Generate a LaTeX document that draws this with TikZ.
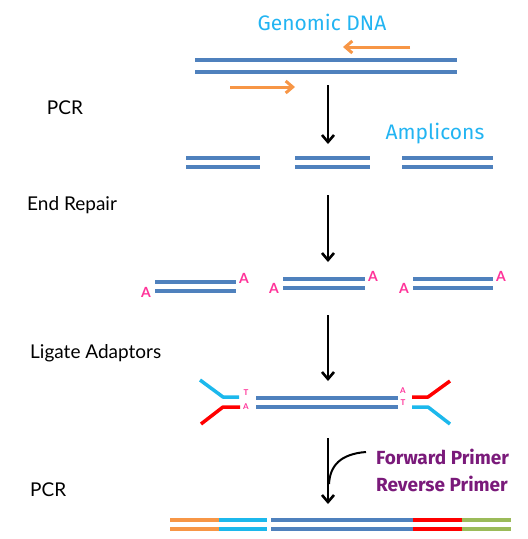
\documentclass[tikz,border=0pt]{standalone}
\usepackage{fontspec}
\setmainfont{Lato}
\newfontfamily\handfont{Fira Sans}
\usetikzlibrary{arrows.meta}

\definecolor{dnablue}{HTML}{4F81BD}
\definecolor{primerorange}{HTML}{F79646}
\definecolor{adaptcyan}{HTML}{1CB8EC}
\definecolor{adaptred}{HTML}{FF0000}
\definecolor{tailgreen}{HTML}{9BBB59}
\definecolor{basepink}{HTML}{FF3399}
\definecolor{labelcyan}{HTML}{22B4F2}
\definecolor{primerpurple}{HTML}{7A1A7A}

\begin{document}
\begin{tikzpicture}[x=1pt,y=-1pt]

	\tikzstyle{strand} = [line width=3.5pt, draw=dnablue]
	\tikzstyle{adaptor} = [line width=3.5pt, line join=round]
	\tikzstyle{step_arrow} = [-{Straight Barb[length=7pt,width=12pt]}, line width=2.6pt]
	\tikzstyle{primer} = [-{Straight Barb[length=7pt,width=12pt]}, line width=3pt, draw=primerorange]
	\tikzstyle{step_label} = [font=\fontsize{19}{21}\selectfont, anchor=west, inner sep=0pt]
	\tikzstyle{hand_label} = [font=\handfont\fontsize{21}{23}\selectfont, text=labelcyan]
	\tikzstyle{primer_label} = [font=\handfont\bfseries\fontsize{19}{21}\selectfont, text=primerpurple, anchor=west, inner sep=0pt]
	\tikzstyle{base} = [font=\bfseries\fontsize{14}{15}\selectfont, text=basepink, inner sep=0pt]
	\tikzstyle{tiny_base} = [font=\bfseries\fontsize{8}{8}\selectfont, text=basepink, inner sep=0pt]

	\useasboundingbox (0,0) rectangle (528,539);

%------------------------------------------------------------
	\node[hand_label] (genomic) at (322,22) {Genomic DNA};

	\coordinate (rev_start) at (410,47);
	\coordinate (rev_end) at (343,47);
	\draw[primer] (rev_start) -- (rev_end);

	\draw[strand] (195,60) -- (457,60);
	\draw[strand] (195,72) -- (457,72);

	\coordinate (fwd_start) at (230,87);
	\coordinate (fwd_end) at (295,87);
	\draw[primer] (fwd_start) -- (fwd_end);

	\node[step_label, anchor=center] (pcr1) at (65,108) {PCR};

	\coordinate (a1_top) at (328,85);
	\coordinate (a1_bot) at (328,144);
	\draw[step_arrow] (a1_top) -- (a1_bot);
%------------------------------------------------------------
	\node[hand_label] (amplicons) at (435,134) {Amplicons};

	\foreach \xa/\xb in {186/260, 295/370, 402/493}{
		\draw[strand] (\xa,158) -- (\xb,158);
		\draw[strand] (\xa,167) -- (\xb,167);
	}

	\node[step_label] (repair) at (27,205) {End Repair};

	\coordinate (a2_top) at (328,195);
	\coordinate (a2_bot) at (328,262);
	\draw[step_arrow] (a2_top) -- (a2_bot);
%------------------------------------------------------------
	\draw[strand] (155,282) -- (236,282);
	\draw[strand] (155,291) -- (236,291);
	\node[base] (a_l1) at (146,292) {A};
	\node[base] (a_r1) at (244,278) {A};

	\draw[strand] (283,279) -- (365,279);
	\draw[strand] (283,288) -- (365,288);
	\node[base] (a_l2) at (274,288) {A};
	\node[base] (a_r2) at (373,276) {A};

	\draw[strand] (413,279) -- (493,279);
	\draw[strand] (413,288) -- (493,288);
	\node[base] (a_l3) at (404,288) {A};
	\node[base] (a_r3) at (501,276) {A};

	\node[step_label] (ligate) at (30,353) {Ligate Adaptors};

	\coordinate (a3_top) at (328,315);
	\coordinate (a3_bot) at (328,381);
	\draw[step_arrow] (a3_top) -- (a3_bot);
%------------------------------------------------------------
	\draw[strand] (256,398) -- (398,398);
	\draw[strand] (256,407) -- (398,407);

	\draw[adaptor, draw=adaptcyan] (200,380) -- (223,397) -- (239,397);
	\draw[adaptor, draw=adaptred] (240,407) -- (223,407) -- (201,424);
	\node[tiny_base] (t_l) at (246,393) {T};
	\node[tiny_base] (a_l) at (246,407) {A};

	\draw[adaptor, draw=adaptred] (412,397) -- (428,397) -- (450,381);
	\draw[adaptor, draw=adaptcyan] (412,407) -- (428,407) -- (450,424);
	\node[tiny_base] (a_r) at (403,391) {A};
	\node[tiny_base] (t_r) at (403,403) {T};

	\node[step_label] (pcr2) at (30,490) {PCR};

	\coordinate (a4_top) at (328,438);
	\coordinate (a4_bot) at (328,504);
	\draw[step_arrow] (a4_top) -- (a4_bot);
%------------------------------------------------------------
	\node[primer_label] (fwd) at (376,457) {Forward Primer};
	\node[primer_label] (rev) at (376,484) {Reverse Primer};

	\coordinate (join_start) at (366,452);
	\coordinate (join_end) at (329,484);
	\draw[line width=2pt] (join_start) .. controls (340,454) and (330,466) .. (join_end);
%------------------------------------------------------------
	\foreach \ya in {520,529}{
		\draw[line width=3.5pt, draw=primerorange] (170,\ya) -- (219,\ya);
		\draw[line width=3.5pt, draw=adaptcyan] (219,\ya) -- (267,\ya);
		\draw[strand] (271,\ya) -- (413,\ya);
		\draw[line width=3.5pt, draw=adaptred] (413,\ya) -- (462,\ya);
		\draw[line width=3.5pt, draw=tailgreen] (462,\ya) -- (511,\ya);
	}

\end{tikzpicture}
\end{document}
